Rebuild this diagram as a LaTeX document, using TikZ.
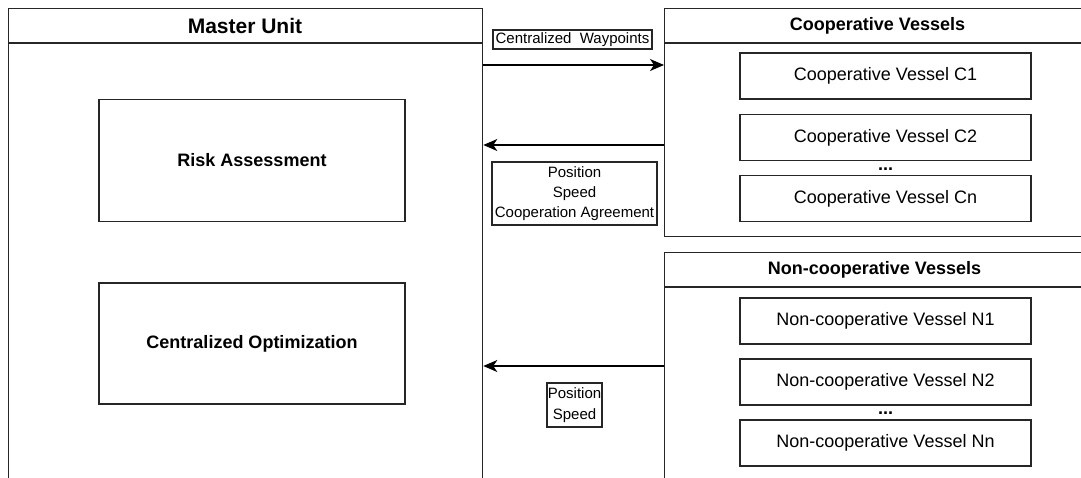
\documentclass[tikz,border=0pt]{standalone}
\usepackage{fontspec}
\setmainfont{Liberation Sans}
\usetikzlibrary{arrows.meta}

\tikzset{
  frame/.style={draw=black!85, line width=1.3pt, rectangle, inner sep=0pt, anchor=north west},
  block/.style={draw=black!85, line width=1.3pt, rectangle, inner sep=0pt, align=center},
  title/.style={font=\fontsize{18}{22}\selectfont\bfseries, inner sep=0pt},
  vessel/.style={block, minimum width=291pt, minimum height=46pt, font=\fontsize{18}{22}\selectfont},
  tag/.style={draw=black!85, line width=1.1pt, rectangle, inner sep=0pt, align=center, font=\fontsize{15}{20}\selectfont},
  dots/.style={font=\fontsize{18}{18}\selectfont\bfseries, inner sep=0pt},
  arr/.style={draw=black, line width=1.3pt, -{Stealth[length=14pt, width=12pt, inset=4pt]}},
  rule/.style={draw=black!85, line width=1.3pt}
}

\begin{document}
\begin{tikzpicture}[x=1pt, y=-1pt]
\useasboundingbox (0,0) rectangle (1081,477);
\clip (0,0) rectangle (1081,477);
\fill[white] (0,0) rectangle (1081,477);

% Master unit container (open at the bottom of the page)
\node[frame, minimum width=474pt, minimum height=520pt] (master) at (8,8) {};
\draw[rule] (8,43) -- (482,43);
\node[title, font=\fontsize{21}{24}\selectfont\bfseries] (mastertitle) at (245,26) {Master Unit};

\node[block, minimum width=306pt, minimum height=122pt, font=\fontsize{18}{22}\selectfont\bfseries] (risk) at (252,160.5) {Risk Assessment};
\node[block, minimum width=306pt, minimum height=121pt, font=\fontsize{18}{22}\selectfont\bfseries] (opt) at (252,343.5) {Centralized Optimization};

% Cooperative vessels container
\node[frame, minimum width=427pt, minimum height=228pt] (coop) at (664,8) {};
\draw[rule] (664,43) -- (1091,43);
\node[title] (cooptitle) at (877.5,26) {Cooperative Vessels};
\node[vessel] (c1) at (885.5,76) {Cooperative Vessel C1};
\node[vessel] (c2) at (885.5,137.5) {Cooperative Vessel C2};
\node[dots] (cdots) at (885.5,169) {...};
\node[vessel] (cn) at (885.5,198.5) {Cooperative Vessel Cn};

% Non-cooperative vessels container (open at the bottom of the page)
\node[frame, minimum width=427pt, minimum height=260pt] (noncoop) at (664,252) {};
\draw[rule] (664,287) -- (1091,287);
\node[title] (noncooptitle) at (874.5,270) {Non-cooperative Vessels};
\node[vessel] (n1) at (885.5,321) {Non-cooperative Vessel N1};
\node[vessel] (n2) at (885.5,382) {Non-cooperative Vessel N2};
\node[dots] (ndots) at (885.5,413) {...};
\node[vessel] (nn) at (885.5,443) {Non-cooperative Vessel Nn};

% Message flows
\draw[arr] (master.east |- 0,65) -- (coop.west |- 0,65);
\draw[arr] (coop.west |- 0,145) -- (master.east |- 0,145);
\draw[arr] (noncoop.west |- 0,366) -- (master.east |- 0,366);

\node[tag, minimum width=159pt, minimum height=19pt] (wplabel) at (572.5,39.5) {Centralized~ Waypoints};
\node[tag, minimum width=165pt, minimum height=63pt] (cooplabel) at (574.5,193.5) {Position\\Speed\\Cooperation Agreement};
\node[tag, minimum width=55pt, minimum height=44pt, font=\fontsize{15}{21}\selectfont] (poslabel) at (574.5,405) {Position\\Speed};
\end{tikzpicture}
\end{document}
